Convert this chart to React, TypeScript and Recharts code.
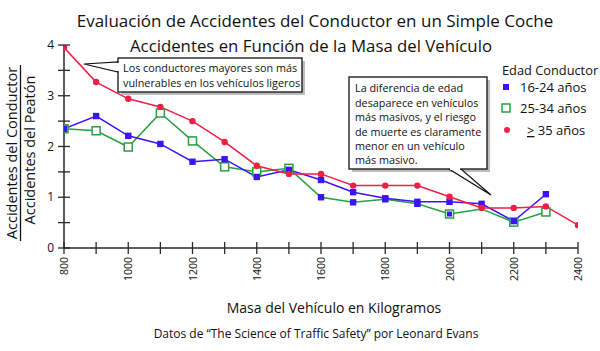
import React from "react";
import { LineChart, Line, XAxis, YAxis } from "recharts";

const masses = [800, 900, 1000, 1100, 1200, 1300, 1400, 1500, 1600, 1700, 1800, 1900, 2000, 2100, 2200, 2300, 2400];
const edad16a24 = [2.35, 2.6, 2.21, 2.05, 1.7, 1.75, 1.4, 1.54, 1.34, 1.1, 0.98, 0.91, 0.91, 0.87, 0.53, 1.06, null];
const edad25a34 = [2.35, 2.31, 1.99, 2.66, 2.11, 1.6, 1.5, 1.57, 1.0, 0.9, 0.96, 0.87, 0.67, 0.77, 0.51, 0.71, null];
const edad35mas = [3.95, 3.27, 2.94, 2.78, 2.5, 2.09, 1.62, 1.46, 1.46, 1.23, 1.23, 1.23, 1.01, 0.79, 0.79, 0.82, 0.45];
const xTicks = [800, 900, 1000, 1100, 1200, 1300, 1400, 1500, 1600, 1700, 1800, 1900, 2000, 2100, 2200, 2300, 2400];
const xLabelTicks = [800, 1000, 1200, 1400, 1600, 1800, 2000, 2200, 2400];
const yTicks = [0, 0.5, 1, 1.5, 2, 2.5, 3, 3.5, 4];
const yLabelTicks = [0, 1, 2, 3, 4];

const data = masses.map((m, i) => ({
  mass: m,
  joven: edad16a24[i],
  medio: edad25a34[i],
  mayor: edad35mas[i],
}));

const FONT = "'Open Sans', 'Noto Sans', sans-serif";
const RED = "#f21e46";
const BLUE = "#3a14f5";
const GREEN = "#27a040";
const AXIS = "#2a2a2a";

const XTick = (props: any) => {
  const { x, y, payload } = props;
  const show = xLabelTicks.includes(payload.value);
  return (
    <g>
      <line x1={x} x2={x} y1={y - 6} y2={y + 6} stroke={AXIS} strokeWidth={1.3} />
      {show && (
        <text
          x={x}
          y={y}
          transform={`rotate(-90 ${x} ${y}) translate(-9 4)`}
          textAnchor="end"
          fontSize={10.5}
          fontFamily={FONT}
          fill="#111"
        >
          {payload.value}
        </text>
      )}
    </g>
  );
};

const YTick = (props: any) => {
  const { x, y, payload } = props;
  const show = yLabelTicks.includes(payload.value);
  return (
    <g>
      <line x1={x - 6} x2={x + 6} y1={y} y2={y} stroke={AXIS} strokeWidth={1.3} />
      {show && (
        <text x={x - 10} y={y + 4} textAnchor="end" fontSize={12} fontFamily={FONT} fill="#111">
          {payload.value}
        </text>
      )}
    </g>
  );
};

const RedDot = (props: any) => {
  const { cx, cy, index } = props;
  if (cx == null || cy == null) return <g key={`r${index}`} />;
  return <circle key={`r${index}`} cx={cx} cy={cy} r={3.2} fill={RED} />;
};

const BlueDot = (props: any) => {
  const { cx, cy, index } = props;
  if (cx == null || cy == null) return <g key={`b${index}`} />;
  return <rect key={`b${index}`} x={cx - 3.2} y={cy - 3.2} width={6.4} height={6.4} fill={BLUE} />;
};

const GreenDot = (props: any) => {
  const { cx, cy, index, payload } = props;
  if (cx == null || cy == null) return <g key={`g${index}`} />;
  const m = payload.mass;
  if (m >= 1600 && m <= 1900) {
    return <rect key={`g${index}`} x={cx - 3.2} y={cy - 3.2} width={6.4} height={6.4} fill={BLUE} />;
  }
  if (m === 2100) return <g key={`g${index}`} />;
  return (
    <g key={`g${index}`}>
      <rect x={cx - 4} y={cy - 4} width={8} height={8} fill="#fff" stroke={GREEN} strokeWidth={1.5} />
      {m === 2000 && <rect x={cx - 2.5} y={cy - 2.5} width={5} height={5} fill={BLUE} />}
    </g>
  );
};

const Overlay = () => (
  <svg
    width={600}
    height={351}
    style={{ position: "absolute", left: 0, top: 0, pointerEvents: "none" }}
    fontFamily={FONT}
  >
    <text x={315} y={27} textAnchor="middle" fontSize={17} fill="#111">
      Evaluación de Accidentes del Conductor en un Simple Coche
    </text>
    <text x={311} y={52} textAnchor="middle" fontSize={16.8} fill="#111">
      Accidentes en Función de la Masa del Vehículo
    </text>

    {/* Y axis fraction label */}
    <text x={17} y={153} transform="rotate(-90 17 153)" textAnchor="middle" fontSize={14.5} fill="#111">
      Accidentes del Conductor
    </text>
    <line x1={20.5} x2={20.5} y1={65} y2={241} stroke="#111" strokeWidth={1.3} />
    <text x={35} y={150} transform="rotate(-90 35 150)" textAnchor="middle" fontSize={14.5} fill="#111">
      Accidentes del Peatón
    </text>

    {/* X axis titles */}
    <text x={334} y={313} textAnchor="middle" fontSize={14} fill="#111">
      Masa del Vehículo en Kilogramos
    </text>
    <text x={316} y={338} textAnchor="middle" fontSize={12} fill="#111">
      Datos de  “The Science of Traffic Safety” por Leonard Evans
    </text>

    {/* Legend */}
    <text x={502} y={75} fontSize={12.8} fill="#111">Edad Conductor</text>
    <rect x={503} y={84} width={6} height={6} fill={BLUE} />
    <text x={520} y={92} fontSize={13} fill="#111">16-24 años</text>
    <rect x={502} y={104} width={8} height={8} fill="#fff" stroke={GREEN} strokeWidth={1.5} />
    <text x={520} y={113} fontSize={13} fill="#111">25-34 años</text>
    <circle cx={507} cy={130} r={3} fill={RED} />
    <text x={527} y={135} fontSize={13} fill="#111">
      <tspan textDecoration="underline">&gt;</tspan> 35 años
    </text>

    {/* Annotation 1 */}
    <rect x={121} y={61} width={184} height={34} fill="#bdbdbd" />
    <polygon points="84,64 118,62 118,72" fill="#fff" stroke="#111" strokeWidth={1.2} />
    <rect x={118} y={58} width={184} height={34} fill="#fff" stroke="#111" strokeWidth={1.3} />
    <line x1={118} x2={118} y1={63} y2={71} stroke="#fff" strokeWidth={2} />
    <text x={123} y={72} fontSize={10.8} fill="#111">Los conductores mayores son más</text>
    <text x={123} y={87} fontSize={10.8} fill="#111">vulnerables en los vehículos ligeros</text>

    {/* Annotation 2 */}
    <rect x={352} y={80} width={138} height={92} fill="#bdbdbd" />
    <polygon points="449,169 461,169 491,195" fill="#fff" stroke="#111" strokeWidth={1.2} />
    <rect x={349} y={77} width={138} height={92} fill="#fff" stroke="#111" strokeWidth={1.3} />
    <line x1={450} x2={460} y1={169} y2={169} stroke="#fff" strokeWidth={2} />
    <text x={355} y={92} fontSize={10.8} fill="#111">La diferencia de edad</text>
    <text x={355} y={107} fontSize={10.8} fill="#111">desaparece en vehículos</text>
    <text x={355} y={121} fontSize={10.8} fill="#111">más masivos, y el riesgo</text>
    <text x={355} y={136} fontSize={10.8} fill="#111">de muerte es claramente</text>
    <text x={355} y={150} fontSize={10.8} fill="#111">menor en un vehículo</text>
    <text x={355} y={164} fontSize={10.8} fill="#111">más masivo.</text>
  </svg>
);

export default function App() {
  return (
    <div style={{ position: "absolute", left: 0, top: 0, width: 600, height: 351, background: "#fff" }}>
      <LineChart
        width={600}
        height={351}
        data={data}
        margin={{ top: 45, right: 22, bottom: 63, left: 0 }}
      >
        <XAxis
          dataKey="mass"
          type="number"
          domain={[800, 2400]}
          ticks={xTicks}
          interval={0}
          tick={<XTick />}
          tickLine={false}
          tickSize={0}
          tickMargin={0}
          axisLine={{ stroke: AXIS, strokeWidth: 1.5 }}
          height={40}
          allowDataOverflow
        />
        <YAxis
          type="number"
          domain={[0, 4]}
          ticks={yTicks}
          interval={0}
          tick={<YTick />}
          tickLine={false}
          tickSize={0}
          tickMargin={0}
          axisLine={{ stroke: AXIS, strokeWidth: 1.5 }}
          width={64}
          allowDataOverflow
        />
        <Line
          dataKey="medio"
          stroke={GREEN}
          strokeWidth={1.5}
          dot={(p: any) => <GreenDot {...p} key={`gd${p.index}`} />}
          activeDot={false}
          isAnimationActive={false}
          type="linear"
        />
        <Line
          dataKey="joven"
          stroke={BLUE}
          strokeWidth={1.5}
          dot={(p: any) => <BlueDot {...p} key={`bd${p.index}`} />}
          activeDot={false}
          isAnimationActive={false}
          type="linear"
        />
        <Line
          dataKey="mayor"
          stroke={RED}
          strokeWidth={1.5}
          dot={(p: any) => <RedDot {...p} key={`rd${p.index}`} />}
          activeDot={false}
          isAnimationActive={false}
          type="linear"
        />
      </LineChart>
      <Overlay />
    </div>
  );
}
